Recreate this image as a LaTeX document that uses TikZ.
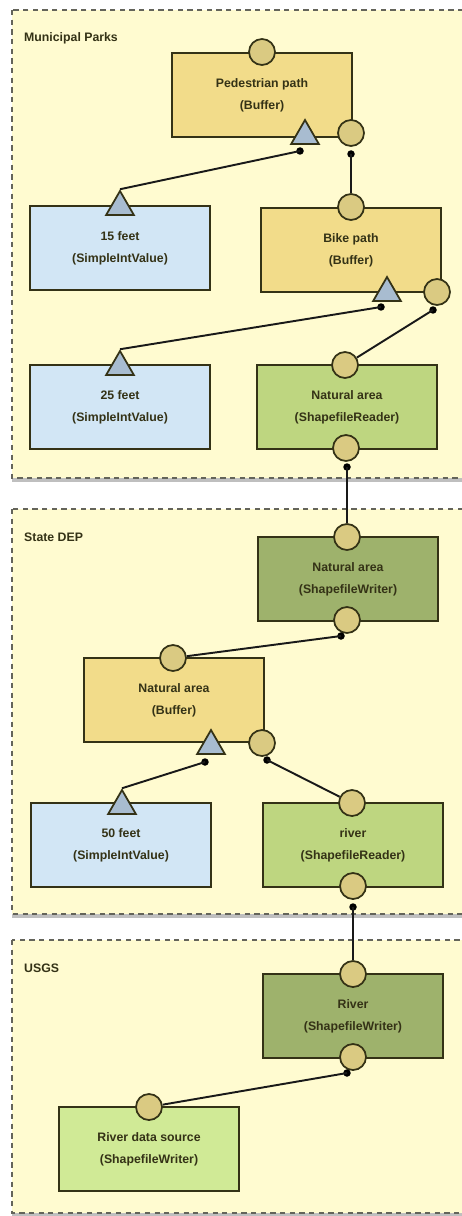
\documentclass[tikz,border=0pt]{standalone}
\usepackage{fontspec}
\setmainfont{Liberation Sans}
\usetikzlibrary{shapes.geometric}
\usetikzlibrary{shadows}
\definecolor{panelyellow}{RGB}{255,251,208}
\definecolor{panelline}{RGB}{100,100,90}
\definecolor{boxline}{RGB}{52,50,22}
\definecolor{bufferfill}{RGB}{242,220,138}
\definecolor{valuefill}{RGB}{210,230,245}
\definecolor{readerfill}{RGB}{190,214,128}
\definecolor{writerfill}{RGB}{158,178,108}
\definecolor{sourcefill}{RGB}{208,234,150}
\definecolor{portfill}{RGB}{218,202,130}
\definecolor{trifill}{RGB}{168,188,208}
\tikzstyle{panel}=[draw=panelline,fill=panelyellow,dash pattern=on 3pt off 2.5pt,line width=0.7pt,drop shadow={shadow xshift=0pt,shadow yshift=-2.5pt,opacity=0.5}]
\tikzstyle{op}=[draw=boxline,line width=1pt,minimum width=3.6cm,minimum height=1.68cm,inner sep=0pt,align=center,text=boxline,font=\fontsize{7}{12.5}\selectfont\bfseries]
\tikzstyle{port}=[circle,draw=boxline,fill=portfill,line width=1pt,minimum size=0.52cm,inner sep=0pt]
\tikzstyle{param}=[regular polygon,regular polygon sides=3,draw=boxline,fill=trifill,line width=1pt,minimum size=0.64cm,inner sep=0pt]
\tikzstyle{plug}=[circle,fill=black,minimum size=0.15cm,inner sep=0pt]
\tikzstyle{wire}=[draw=black!90,line width=1.1pt]
\tikzstyle{title}=[anchor=west,text=boxline,font=\fontsize{7}{8}\selectfont\bfseries]

\begin{document}
\begin{tikzpicture}[x=0.02cm,y=-0.02cm]
    \clip (0,0) rectangle (462,1216);
    \fill[white] (0,0) rectangle (462,1216);

    % panels
    \draw[panel] (12,10) rectangle (475,478);
    \draw[panel] (12,509) rectangle (475,914);
    \draw[panel] (12,940) rectangle (475,1213);
    \node[title] (mp) at (18,38) {Municipal Parks};
    \node[title] (dep) at (18,537) {State DEP};
    \node[title] (usgs) at (18,968) {USGS};

    % Municipal Parks
    \node[op,fill=bufferfill] (ped) at (262,95) {Pedestrian path\\(Buffer)};
    \node[op,fill=valuefill] (ft15) at (120,248) {15 feet\\(SimpleIntValue)};
    \node[op,fill=bufferfill] (bike) at (351,250) {Bike path\\(Buffer)};
    \node[op,fill=valuefill] (ft25) at (120,407) {25 feet\\(SimpleIntValue)};
    \node[op,fill=readerfill] (narea) at (347,407) {Natural area\\(ShapefileReader)};
    % State DEP
    \node[op,fill=writerfill] (nwriter) at (348,579) {Natural area\\(ShapefileWriter)};
    \node[op,fill=bufferfill] (nbuf) at (174,700) {Natural area\\(Buffer)};
    \node[op,fill=valuefill] (ft50) at (121,845) {50 feet\\(SimpleIntValue)};
    \node[op,fill=readerfill] (river) at (353,845) {river\\(ShapefileReader)};
    % USGS
    \node[op,fill=writerfill] (riverw) at (353,1016) {River\\(ShapefileWriter)};
    \node[op,fill=sourcefill] (rsrc) at (149,1149) {River data source\\(ShapefileWriter)};

    % ports
    \node[port] (ped-in) at (262,52) {};
    \node[port] (ped-out) at (351,133) {};
    \node[port] (bike-in) at (351,207) {};
    \node[port] (bike-out) at (437,292) {};
    \node[port] (narea-in) at (345,365) {};
    \node[port] (narea-out) at (346,448) {};
    \node[port] (nwriter-in) at (347,537) {};
    \node[port] (nwriter-out) at (347,620) {};
    \node[port] (nbuf-in) at (173,658) {};
    \node[port] (nbuf-out) at (262,743) {};
    \node[port] (river-in) at (352,803) {};
    \node[port] (river-out) at (353,886) {};
    \node[port] (riverw-in) at (353,974) {};
    \node[port] (riverw-out) at (353,1057) {};
    \node[port] (rsrc-in) at (149,1107) {};

    % parameter triangles
    \node[param] (ped-tri) at (305,136) {};
    \node[param] (bike-tri) at (387,293) {};
    \node[param] (nbuf-tri) at (211,746) {};
    \node[param] (ft15-tri) at (120,207) {};
    \node[param] (ft25-tri) at (120,367) {};
    \node[param] (ft50-tri) at (122,806) {};

    % plugs
    \node[plug] (p1) at (300,151) {};
    \node[plug] (p2) at (351,154) {};
    \node[plug] (p3) at (381,307) {};
    \node[plug] (p4) at (433,310) {};
    \node[plug] (p5) at (347,467) {};
    \node[plug] (p6) at (341,636) {};
    \node[plug] (p7) at (205,762) {};
    \node[plug] (p8) at (267,760) {};
    \node[plug] (p9) at (353,907) {};
    \node[plug] (p10) at (347,1073) {};

    % wires
    \draw[wire] (p1.center) -- (ft15-tri.north);
    \draw[wire] (p2.center) -- (bike-in);
    \draw[wire] (p3.center) -- (ft25-tri.north);
    \draw[wire] (p4.center) -- (narea-in);
    \draw[wire] (p5.center) -- (nwriter-in);
    \draw[wire] (p6.center) -- (nbuf-in);
    \draw[wire] (p7.center) -- (ft50-tri.north);
    \draw[wire] (p8.center) -- (river-in);
    \draw[wire] (p9.center) -- (riverw-in);
    \draw[wire] (p10.center) -- (rsrc-in);
  \end{tikzpicture}
\end{document}
